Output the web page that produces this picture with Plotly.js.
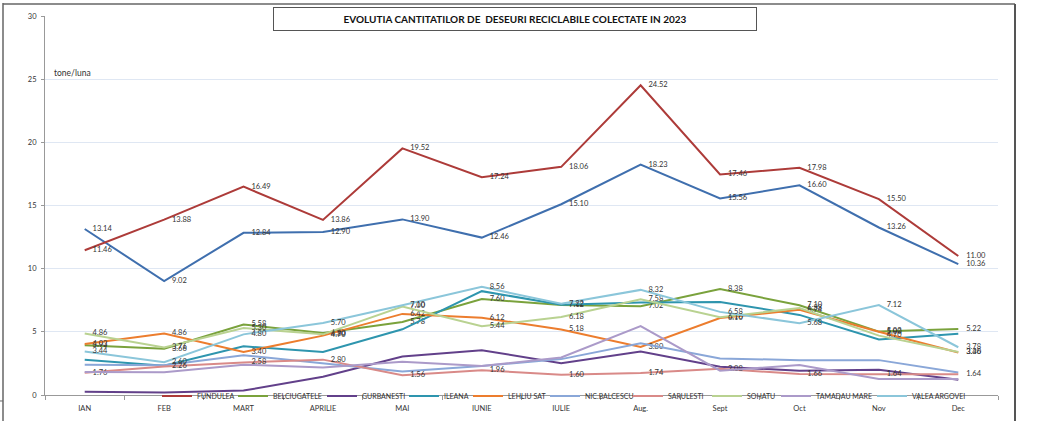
<!DOCTYPE html>
<html>
<head>
<meta charset="utf-8">
<script src="https://cdn.plot.ly/plotly-3.0.1.min.js"></script>
<style>html,body{margin:0;padding:0;background:#fff;}#chart{width:1038px;height:422px;}</style>
</head>
<body>
<div id="chart"></div>
<script>
const months = ["IAN","FEB","MART","APRILIE","MAI","IUNIE","IULIE","Aug.","Sept","Oct","Nov","Dec"];

const lehliuGara   = [13.14, 9.02, 12.84, 12.90, 13.90, 12.46, 15.10, 18.23, 15.56, 16.60, 13.26, 10.36];
const fundulea     = [11.46, 13.88, 16.49, 13.86, 19.52, 17.24, 18.06, 24.52, 17.46, 17.98, 15.50, 11.00];
const belciugatele = [3.93, 3.66, 5.58, 4.90, 5.78, 7.60, 7.12, 7.02, 8.38, 7.10, 5.02, 5.22];
const gurbanesti   = [0.25, 0.20, 0.35, 1.45, 3.05, 3.55, 2.52, 3.45, 2.24, 1.92, 2.00, 1.21];
const ileana       = [2.80, 2.32, 3.86, 3.40, 5.20, 8.22, 7.15, 7.32, 7.37, 6.34, 4.40, 4.85];
const lehliuSat    = [4.03, 4.86, 3.40, 4.70, 6.42, 6.12, 5.18, 3.80, 6.10, 6.74, 5.00, 3.36];
const nicBalcescu  = [2.40, 2.35, 3.15, 2.52, 1.87, 2.30, 2.84, 4.10, 2.89, 2.76, 2.76, 1.79];
const sarulesti    = [1.76, 2.26, 2.58, 2.80, 1.56, 1.96, 1.60, 1.74, 2.08, 1.66, 1.64, 1.64];
const sohatu       = [4.86, 3.76, 5.30, 4.80, 7.00, 5.44, 6.18, 7.58, 6.16, 6.88, 4.70, 3.40];
const tamadauMare  = [1.82, 1.80, 2.40, 2.18, 2.63, 2.30, 2.97, 5.45, 1.92, 2.37, 1.26, 1.26];
const valeaArgovei = [3.44, 2.60, 4.80, 5.70, 7.10, 8.56, 7.22, 8.32, 6.58, 5.68, 7.12, 3.78];

// legend text start positions in page pixels (layout only)
const seriesDefs = [
  {name: "LEHLIU GARA",   y: lehliuGara,   color: "#3f6fae", labels: true,  legendX: null},
  {name: "FUNDULEA",      y: fundulea,     color: "#ad3b39", labels: true,  legendX: 197},
  {name: "BELCIUGATELE",  y: belciugatele, color: "#7aa23c", labels: true,  legendX: 273},
  {name: "GURBANESTI",    y: gurbanesti,   color: "#62408a", labels: false, legendX: 362},
  {name: "ILEANA",        y: ileana,       color: "#2e95ae", labels: false, legendX: 444},
  {name: "LEHLIU SAT",    y: lehliuSat,    color: "#ec7d2e", labels: true,  legendX: 508},
  {name: "NIC.BALCESCU",  y: nicBalcescu,  color: "#8aa7d8", labels: false, legendX: 585},
  {name: "SARULESTI",     y: sarulesti,    color: "#d98a88", labels: true,  legendX: 668},
  {name: "SOHATU",        y: sohatu,       color: "#b9d291", labels: true,  legendX: 747},
  {name: "TAMADAU MARE",  y: tamadauMare,  color: "#ab9ac9", labels: false, legendX: 816},
  {name: "VALEA ARGOVEI", y: valeaArgovei, color: "#8bc6da", labels: true,  legendX: 912}
];

const FONT = "Lato, 'Open Sans', sans-serif";
const px = v => (v - 45) / 953;
const py = v => (396 - v) / 380;

let legendCount = 0;
const legendLayouts = {};
const traces = seriesDefs.map(s => {
  const t = {
    type: "scatter",
    x: months,
    y: s.y,
    name: s.name,
    mode: s.labels ? "lines+markers+text" : "lines",
    line: {color: s.color, width: 2},
    marker: {size: 11, color: "rgba(0,0,0,0)", line: {width: 0, color: "rgba(0,0,0,0)"}},
    text: s.labels ? s.y.map(v => v.toFixed(2)) : undefined,
    textposition: "middle right",
    textfont: {family: FONT, size: 7.5, color: "#333"},
    hoverinfo: "name+y"
  };
  if (s.legendX === null) {
    t.showlegend = false;
  } else {
    legendCount++;
    const key = legendCount === 1 ? "legend" : "legend" + legendCount;
    t.legend = key;
    t.showlegend = true;
    legendLayouts[key] = {
      orientation: "h",
      x: px(s.legendX - 40),
      xanchor: "left",
      y: py(396),
      yanchor: "middle",
      bgcolor: "rgba(0,0,0,0)",
      borderwidth: 0,
      font: {family: FONT, size: 7, color: "#333"},
      itemwidth: 30
    };
  }
  return t;
});

const layout = Object.assign({
  width: 1038,
  height: 422,
  margin: {l: 45, r: 40, t: 16, b: 26},
  paper_bgcolor: "#fff",
  plot_bgcolor: "#fff",
  font: {family: FONT, size: 7.5, color: "#333"},
  showlegend: true,
  xaxis: {
    type: "category",
    range: [-0.5, 11.5],
    showline: true,
    linecolor: "#999",
    linewidth: 1,
    ticks: "outside",
    tickson: "boundaries",
    ticklen: 4,
    tickcolor: "#999",
    ticklabelstandoff: 6,
    showgrid: false,
    zeroline: false,
    tickfont: {family: FONT, size: 7.5, color: "#333"},
    fixedrange: true
  },
  yaxis: {
    range: [0, 30],
    dtick: 5,
    showline: true,
    linecolor: "#999",
    linewidth: 1,
    ticks: "outside",
    ticklen: 3,
    tickcolor: "#999",
    ticklabelstandoff: 3,
    gridcolor: "#dfe7f3",
    gridwidth: 1,
    zeroline: false,
    tickfont: {family: FONT, size: 7.5, color: "#333"},
    fixedrange: true
  },
  annotations: [
    {
      xref: "paper", yref: "paper",
      x: px(515), y: py(19.5),
      xanchor: "center", yanchor: "middle",
      text: "<b>EVOLUTIA CANTITATILOR DE\u00a0 DESEURI RECICLABILE COLECTATE IN 2023</b>",
      showarrow: false,
      font: {family: FONT, size: 10, color: "#111"},
      width: 482, height: 22,
      bordercolor: "#555", borderwidth: 1, borderpad: 0,
      bgcolor: "#fff"
    },
    {
      xref: "paper", yref: "paper",
      x: px(52), y: py(73),
      xanchor: "left", yanchor: "middle",
      text: "tone/luna",
      showarrow: false,
      font: {family: FONT, size: 8.5, color: "#333"}
    }
  ],
  shapes: [
    {type: "line", xref: "paper", yref: "paper", x0: px(3), x1: px(1015), y0: py(4), y1: py(4), line: {color: "#666", width: 1.5}},
    {type: "line", xref: "paper", yref: "paper", x0: px(3), x1: px(3), y0: py(3), y1: py(422), line: {color: "#666", width: 1.5}},
    {type: "line", xref: "paper", yref: "paper", x0: px(1015), x1: px(1015), y0: py(4), y1: py(422), line: {color: "#555", width: 2}},
    {type: "line", xref: "paper", yref: "paper", x0: px(0), x1: px(3), y0: py(402), y1: py(402), line: {color: "#666", width: 1}}
  ]
}, legendLayouts);

Plotly.newPlot("chart", traces, layout, {displayModeBar: false, staticPlot: true});
</script>
</body>
</html>
